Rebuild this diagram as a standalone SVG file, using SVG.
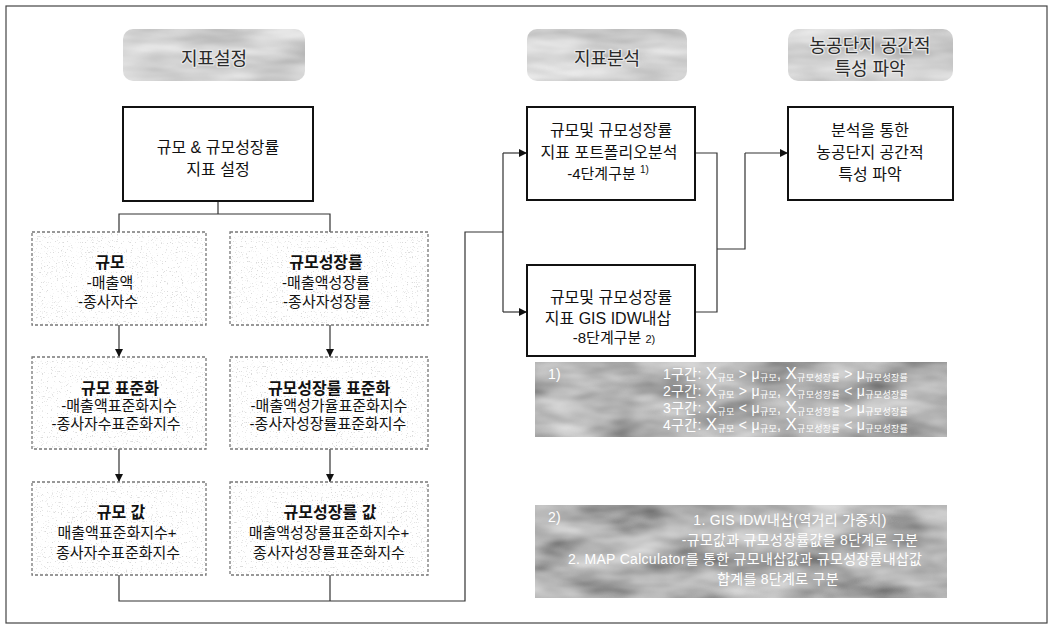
<svg xmlns="http://www.w3.org/2000/svg" width="1054" height="628" viewBox="0 0 1054 628">
<defs>
<style>
.t{font-family:"Liberation Sans","Noto Sans CJK KR",sans-serif;fill:#111;text-anchor:middle;font-size:15px}
.m{font-size:16px}
.b{font-weight:bold;font-size:16px}
.box{fill:#fff;stroke:#111;stroke-width:2}
.dbox{fill:#fff;stroke:#777;stroke-width:1.3;stroke-dasharray:3 2}
.spk{fill:#fff;filter:url(#speck);opacity:0.55}
.hdr{fill:#fff;filter:url(#mottle)}
.fn{fill:#fff;filter:url(#mottleDark)}
.ln{fill:none;stroke:#333;stroke-width:1.2}
.ar{marker-end:url(#ah)}
.ht{font-size:18px;fill:#2a2a2a;stroke:#e6e6e6;stroke-width:2.5;paint-order:stroke;stroke-linejoin:round}
.ft{fill:#fff;font-size:14px;text-anchor:start;letter-spacing:0.3px}
.fm{text-anchor:middle}
.X{font-size:17px}
.s{font-size:9px}
</style>
<filter id="mottle" x="0" y="0" width="100%" height="100%">
<feTurbulence type="fractalNoise" baseFrequency="0.012 0.05" numOctaves="3" seed="3" result="n"/>
<feColorMatrix in="n" type="matrix" values="0.6 0 0 0 0.33  0.6 0 0 0 0.33  0.6 0 0 0 0.33  0 0 0 0 1" result="g"/>
<feComposite in="g" in2="SourceGraphic" operator="in"/>
</filter>
<filter id="mottleDark" x="0" y="0" width="100%" height="100%">
<feTurbulence type="fractalNoise" baseFrequency="0.015 0.04" numOctaves="3" seed="7" result="n"/>
<feColorMatrix in="n" type="matrix" values="0.8 0 0 0 0.05  0.8 0 0 0 0.05  0.8 0 0 0 0.05  0 0 0 0 1" result="g"/>
<feComposite in="g" in2="SourceGraphic" operator="in"/>
</filter>
<filter id="speck" x="0" y="0" width="100%" height="100%">
<feTurbulence type="fractalNoise" baseFrequency="0.8" numOctaves="1" seed="5" result="n"/>
<feColorMatrix in="n" type="matrix" values="0 0 0 0 0.5  0 0 0 0 0.5  0 0 0 0 0.5  9 0 0 0 -5.6" result="g"/>
<feComposite in="g" in2="SourceGraphic" operator="in"/>
</filter>
<marker id="ah" viewBox="0 0 10 10" refX="10" refY="5" markerWidth="8" markerHeight="8" markerUnits="userSpaceOnUse" orient="auto">
<path d="M0,0 L10,5 L0,10 z" fill="#111"/>
</marker>
</defs>

<rect x="6" y="6" width="1041" height="617" fill="#fff" stroke="#444" stroke-width="1.2"/>

<g id="connectors">
<path class="ln" d="M218,201 V214 M119,232 V214 H330 V232"/>
<path class="ln ar" d="M119,325 V357"/>
<path class="ln ar" d="M330,325 V357"/>
<path class="ln ar" d="M119,449 V482"/>
<path class="ln ar" d="M330,449 V482"/>
<path class="ln" d="M119,575 V601 H465 V232 H503 M330,575 V601 M503,153 V312"/>
<path class="ln ar" d="M503,153 H527"/>
<path class="ln ar" d="M503,312 H527"/>
<path class="ln" d="M695,153 H717 V312 H695 M717,249 H745 V153"/>
<path class="ln ar" d="M745,153 H788"/>
</g>

<g id="hdr-setting">
<rect class="hdr" x="123" y="29" width="182" height="52" rx="10"/>
<text class="t ht" x="214" y="65">지표설정</text>
</g>
<g id="hdr-analysis">
<rect class="hdr" x="527" y="29" width="160" height="52" rx="10"/>
<text class="t ht" x="607" y="65">지표분석</text>
</g>
<g id="hdr-result">
<rect class="hdr" x="788" y="29" width="165" height="52" rx="10"/>
<text class="t ht" x="870" y="52">농공단지 공간적</text>
<text class="t ht" x="870" y="75">특성 파악</text>
</g>

<g id="n-setting">
<rect class="box" x="123" y="107" width="190" height="94"/>
<text class="t m" x="218" y="153">규모 &amp; 규모성장률</text>
<text class="t m" x="218" y="175">지표 설정</text>
</g>

<g id="n-scale">
<rect class="dbox" x="32" y="232" width="174" height="93"/>
<rect class="spk" x="33" y="233" width="172" height="91"/>
<text class="t b" x="110" y="268">규모</text>
<text class="t" x="110" y="288">-매출액</text>
<text class="t" x="108" y="307">-종사자수</text>
</g>
<g id="n-growth">
<rect class="dbox" x="230" y="232" width="198" height="93"/>
<rect class="spk" x="231" y="233" width="196" height="91"/>
<text class="t b" x="326" y="268">규모성장률</text>
<text class="t" x="326" y="288">-매출액성장률</text>
<text class="t" x="327" y="307">-종사자성장률</text>
</g>
<g id="n-scale-std">
<rect class="dbox" x="32" y="357" width="174" height="92"/>
<rect class="spk" x="33" y="358" width="172" height="90"/>
<text class="t b" x="120" y="394">규모 표준화</text>
<text class="t" x="119" y="411">-매출액표준화지수</text>
<text class="t" x="116" y="429">-종사자수표준화지수</text>
</g>
<g id="n-growth-std">
<rect class="dbox" x="230" y="357" width="198" height="92"/>
<rect class="spk" x="231" y="358" width="196" height="90"/>
<text class="t b" x="329" y="394">규모성장률 표준화</text>
<text class="t" x="329" y="411">-매출액성가율표준화지수</text>
<text class="t" x="328" y="429">-종사자성장률표준화지수</text>
</g>
<g id="n-scale-val">
<rect class="dbox" x="32" y="482" width="174" height="93"/>
<rect class="spk" x="33" y="483" width="172" height="91"/>
<text class="t b" x="121" y="518">규모 값</text>
<text class="t" x="117" y="538">매출액표준화지수+</text>
<text class="t" x="118" y="558">종사자수표준화지수</text>
</g>
<g id="n-growth-val">
<rect class="dbox" x="230" y="482" width="198" height="93"/>
<rect class="spk" x="231" y="483" width="196" height="91"/>
<text class="t b" x="330" y="518">규모성장률 값</text>
<text class="t" x="329" y="538">매출액성장률표준화지수+</text>
<text class="t" x="329" y="558">종사자성장률표준화지수</text>
</g>

<g id="n-portfolio">
<rect class="box" x="527" y="107" width="168" height="93"/>
<text class="t m" x="611" y="136">규모및 규모성장률</text>
<text class="t m" x="609" y="158">지표 포트폴리오분석</text>
<text class="t" x="608" y="179">-4단계구분 <tspan font-size="10" dy="-6">1)</tspan></text>
</g>
<g id="n-idw">
<rect class="box" x="527" y="265" width="168" height="91"/>
<text class="t m" x="611" y="303">규모및 규모성장률</text>
<text class="t m" x="608" y="324">지표 GIS IDW내삽</text>
<text class="t" x="614" y="343">-8단계구분 <tspan font-size="11">2)</tspan></text>
</g>
<g id="n-result">
<rect class="box" x="788" y="107" width="165" height="93"/>
<text class="t m" x="870" y="136">분석을 통한</text>
<text class="t m" x="870" y="158">농공단지 공간적</text>
<text class="t m" x="870" y="180">특성 파악</text>
</g>

<g id="note1">
<rect class="fn" x="535" y="362" width="412" height="75"/>
<text class="t ft" x="548" y="379">1)</text>
<text class="t ft" x="663" y="379">1구간: <tspan class="X">X</tspan><tspan class="s" dy="2">규모</tspan><tspan dy="-2"> &gt; μ</tspan><tspan class="s" dy="2">규모</tspan><tspan dy="-2">, </tspan><tspan class="X">X</tspan><tspan class="s" dy="2">규모성장률</tspan><tspan dy="-2"> &gt; μ</tspan><tspan class="s" dy="2">규모성장률</tspan></text>
<text class="t ft" x="663" y="396">2구간: <tspan class="X">X</tspan><tspan class="s" dy="2">규모</tspan><tspan dy="-2"> &gt; μ</tspan><tspan class="s" dy="2">규모</tspan><tspan dy="-2">, </tspan><tspan class="X">X</tspan><tspan class="s" dy="2">규모성장률</tspan><tspan dy="-2"> &lt; μ</tspan><tspan class="s" dy="2">규모성장률</tspan></text>
<text class="t ft" x="663" y="413">3구간: <tspan class="X">X</tspan><tspan class="s" dy="2">규모</tspan><tspan dy="-2"> &lt; μ</tspan><tspan class="s" dy="2">규모</tspan><tspan dy="-2">, </tspan><tspan class="X">X</tspan><tspan class="s" dy="2">규모성장률</tspan><tspan dy="-2"> &gt; μ</tspan><tspan class="s" dy="2">규모성장률</tspan></text>
<text class="t ft" x="663" y="430">4구간: <tspan class="X">X</tspan><tspan class="s" dy="2">규모</tspan><tspan dy="-2"> &lt; μ</tspan><tspan class="s" dy="2">규모</tspan><tspan dy="-2">, </tspan><tspan class="X">X</tspan><tspan class="s" dy="2">규모성장률</tspan><tspan dy="-2"> &lt; μ</tspan><tspan class="s" dy="2">규모성장률</tspan></text>
</g>

<g id="note2">
<rect class="fn" x="535" y="505" width="412" height="93"/>
<text class="t ft" x="548" y="522">2)</text>
<text class="t ft fm" x="790" y="525">1. GIS IDW내삽(역거리 가중치)</text>
<text class="t ft fm" x="800" y="545">-규모값과 규모성장률값을 8단계로 구분</text>
<text class="t ft" x="568" y="564">2. MAP Calculator를 통한 규모내삽값과 규모성장률내삽값</text>
<text class="t ft fm" x="778" y="584">합계를 8단계로 구분</text>
</g>
</svg>
